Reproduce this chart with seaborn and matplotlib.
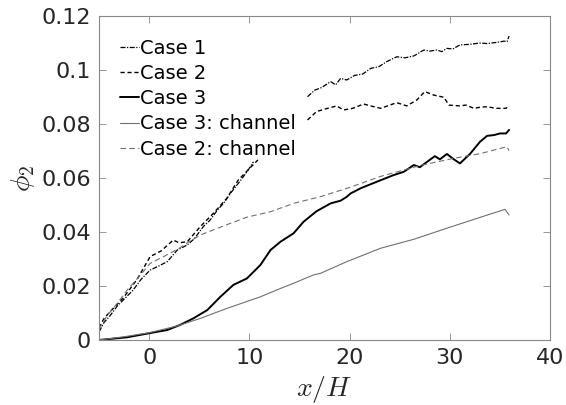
import numpy as np
import pandas as pd
import seaborn as sns
import matplotlib
matplotlib.use("Agg")
import matplotlib.pyplot as plt
from matplotlib.lines import Line2D

sns.set_style("ticks")
plt.rcParams['font.family'] = ['DejaVu Sans']
plt.rcParams['mathtext.fontset'] = 'cm'

# Case 1 (two segments)
case1_x_a = [-5, -4.5, -3.9, -3.2, -2.4, -1.6, -0.8, 0.1, 1.0, 1.8, 2.8, 3.8, 4.5, 5.4, 6.1, 6.8, 7.5, 8.1, 9.1,
             9.8, 10.4]
case1_y_a = [0.003, 0.0065, 0.009, 0.0125, 0.0155, 0.0185, 0.0225, 0.0259, 0.0275, 0.029, 0.0333, 0.0352, 0.0375,
             0.042, 0.0445, 0.0481, 0.051, 0.0543, 0.059, 0.0625, 0.066]
case1_x_b = [15.8, 16.5, 17.2, 18.1, 18.6, 19.1, 19.7, 20.5, 21.3, 22.1, 22.9, 23.7, 24.7, 25.5, 26.4, 27.4, 28.0,
             28.7, 29.2, 29.7, 30.3, 31, 32, 33, 33.7, 34.4, 35.0, 35.4, 35.7, 35.9]
case1_y_b = [0.0901, 0.0925, 0.0935, 0.0957, 0.0945, 0.0969, 0.0963, 0.098, 0.0985, 0.1006, 0.1012, 0.1031, 0.1049,
             0.1045, 0.1052, 0.1074, 0.107, 0.1074, 0.1068, 0.108, 0.1078, 0.1093, 0.1095, 0.110, 0.1098, 0.1101,
             0.1104, 0.1107, 0.1105, 0.1126]

# Case 2 (two segments)
case2_x_a = [-5, -4.5, -3.9, -2.6, -1.2, 0.1, 1.2, 2.4, 3.0, 3.8, 5.1, 6.4, 7.75, 8.9, 10.0, 10.85]
case2_y_a = [0.0045, 0.008, 0.0105, 0.0155, 0.0225, 0.0309, 0.033, 0.037, 0.036, 0.0364, 0.042, 0.0469, 0.0525,
             0.0593, 0.0635, 0.0667]
case2_x_b = [15.8, 16.7, 17.5, 18.7, 19.4, 20.3, 21.4, 22.2, 23.1, 24.0, 24.7, 25.7, 26.7, 27.5, 28.4, 29.4, 29.9,
             31.0, 31.6, 32.4, 33.0, 33.7, 34.6, 35.6, 35.8]
case2_y_b = [0.0815, 0.0846, 0.0855, 0.0867, 0.0852, 0.0858, 0.0874, 0.0866, 0.0858, 0.087, 0.0879, 0.0867, 0.0889,
             0.092, 0.0907, 0.0899, 0.087, 0.0867, 0.087, 0.0858, 0.0862, 0.0864, 0.0858, 0.0858, 0.0867]

# Case 3
case3_x = [-5, -2.2, 0, 1.8, 3.1, 4.4, 5.8, 7.1, 8.4, 9.75, 11.1, 12.1, 13.1, 14.4, 15.4, 16.7, 18.1, 19.1, 19.7,
           20.1, 21.1, 22.7, 24.4, 25.4, 26.4, 27.0, 28.5, 29.0, 29.7, 30.4, 31.0, 32.0, 33.0, 33.7, 34.4, 35.0,
           35.6, 35.9]
case3_y = [0, 0.001, 0.0025, 0.0037, 0.0056, 0.008, 0.0111, 0.016, 0.0204, 0.0228, 0.0278, 0.0333, 0.0364, 0.0395,
           0.0438, 0.0477, 0.0506, 0.0516, 0.053, 0.0543, 0.0562, 0.0586, 0.0611, 0.0623, 0.0648, 0.064, 0.0681,
           0.0669, 0.0689, 0.0669, 0.0654, 0.0689, 0.0734, 0.0756, 0.0759, 0.0765, 0.0765, 0.0778]

# Case 3: channel
case3ch_x = [-5, -2.5, 0, 2.8, 5.1, 7.75, 11.1, 13.1, 14.4, 16.4, 17.1, 19.7, 23.1, 26.4, 29.7, 33.0, 35.5, 35.9]
case3ch_y = [0, 0.0012, 0.0027, 0.0052, 0.008, 0.0117, 0.016, 0.0191, 0.021, 0.0241, 0.0247, 0.029, 0.034, 0.0373,
             0.0414, 0.0454, 0.0484, 0.0463]

# Case 2: channel
case2ch_x = [-5, -4.2, -3.2, -2.2, -1.0, 0.1, 1.5, 3.0, 3.8, 5.1, 8.1, 9.75, 12.1, 14.4, 17.1, 20, 23, 27, 30.4,
             33, 35.7, 35.9]
case2ch_y = [0.004, 0.009, 0.0135, 0.0185, 0.0235, 0.0284, 0.031, 0.034, 0.036, 0.0389, 0.0432, 0.0455, 0.0475,
             0.0506, 0.0531, 0.0565, 0.0605, 0.0646, 0.0673, 0.069, 0.0716, 0.0701]

labels = ["Case 1", "Case 2", "Case 3", "Case 3: channel", "Case 2: channel"]

styles = {
    "Case 1": dict(color="black", lw=0.9, ls=(0, (4, 1.2, 1, 1.2))),
    "Case 2": dict(color="black", lw=1.0, ls=(0, (3, 2))),
    "Case 3": dict(color="black", lw=1.4, ls="-"),
    "Case 3: channel": dict(color="#707070", lw=0.8, ls="-"),
    "Case 2: channel": dict(color="#707070", lw=0.8, ls=(0, (5, 3))),
}

segments = [
    ("Case 1", case1_x_a, case1_y_a), ("Case 1", case1_x_b, case1_y_b),
    ("Case 2", case2_x_a, case2_y_a), ("Case 2", case2_x_b, case2_y_b),
    ("Case 3", case3_x, case3_y),
    ("Case 3: channel", case3ch_x, case3ch_y),
    ("Case 2: channel", case2ch_x, case2ch_y),
]

fig = plt.figure(figsize=(5.66, 4.05), dpi=100)
ax = fig.add_axes([0.175, 0.1605, 0.797, 0.8])

for name, xs, ys in segments:
    st = styles[name]
    sns.lineplot(x=xs, y=ys, ax=ax, sort=False, estimator=None, color=st["color"],
                 linewidth=st["lw"], linestyle=st["ls"])

ax.set_xlim(-5, 40)
ax.set_ylim(0, 0.12)
ax.set_xticks([0, 10, 20, 30, 40])
ax.set_yticks([0, 0.02, 0.04, 0.06, 0.08, 0.1, 0.12])
ax.set_yticklabels(["0", "0.02", "0.04", "0.06", "0.08", "0.1", "0.12"])
ax.tick_params(direction="in", top=True, right=True, length=5, width=0.6, color="#888888",
               labelsize=16, labelcolor="#262626", pad=6)
for sp in ax.spines.values():
    sp.set_color("#888888")
    sp.set_linewidth(0.8)

ax.set_xlabel(r"$x/H$", fontsize=20, color="#262626", labelpad=4)
ax.set_ylabel(r"$\phi_2$", fontsize=20, color="#262626", labelpad=3)

handles = [Line2D([0], [0], color=styles[n]["color"], lw=styles[n]["lw"], ls=styles[n]["ls"]) for n in labels]
ax.legend(handles, labels, loc="upper left", bbox_to_anchor=(0.046, 0.93), frameon=False, fontsize=14,
          handlelength=1.0, handletextpad=0.05, labelspacing=0.32, borderpad=0, borderaxespad=0,
          labelcolor="black")

fig.savefig("out.png", dpi=100)
